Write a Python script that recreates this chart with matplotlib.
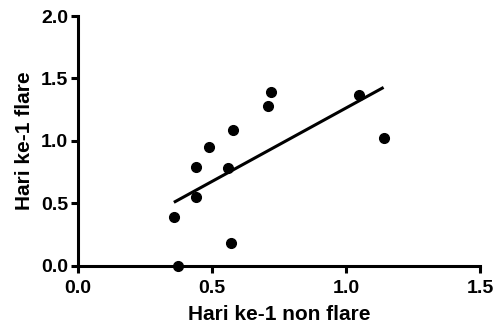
import matplotlib
matplotlib.use('Agg')

import numpy as np
import matplotlib.pyplot as plt

# data
non_flare = [0.358, 0.373, 0.44, 0.44, 0.49, 0.56, 0.57, 0.58, 0.71, 0.72, 1.05, 1.14]
flare = [0.39, 0.0, 0.55, 0.79, 0.95, 0.78, 0.18, 1.09, 1.28, 1.39, 1.37, 1.02]
x_ticks = [0.0, 0.5, 1.0, 1.5]
y_ticks = [0.0, 0.5, 1.0, 1.5, 2.0]

plt.rcParams['font.family'] = ['Liberation Sans', 'DejaVu Sans']
plt.rcParams['font.weight'] = 'bold'

fig = plt.figure(figsize=(4.96, 3.27), dpi=100)
ax = fig.add_axes([0.157, 0.187, 0.811, 0.764])

# scatter points
ax.plot(non_flare, flare, 'o', color='black', markersize=7, clip_on=False, zorder=3)

# linear regression line over the data range
slope, intercept = np.polyfit(non_flare, flare, 1)
xfit = np.array([min(non_flare), max(non_flare)])
ax.plot(xfit, slope * xfit + intercept, color='black', linewidth=2.2, solid_capstyle='butt')

ax.set_xlim(0, 1.5)
ax.set_ylim(0, 2.0)
ax.set_xticks(x_ticks)
ax.set_yticks(y_ticks)
ax.set_xticklabels(['%.1f' % t for t in x_ticks])
ax.set_yticklabels(['%.1f' % t for t in y_ticks])

for side in ['top', 'right']:
    ax.spines[side].set_visible(False)
for side in ['left', 'bottom']:
    ax.spines[side].set_linewidth(2.2)
ax.tick_params(direction='out', length=5, width=2.2, labelsize=14)
ax.tick_params(axis='x', pad=5)
ax.tick_params(axis='y', pad=2)

ax.set_xlabel('Hari ke-1 non flare', fontsize=15, fontweight='bold', labelpad=6)
ax.set_ylabel('Hari ke-1 flare', fontsize=15, fontweight='bold', labelpad=5)

plt.savefig('out.png', dpi=100)
plt.close(fig)
